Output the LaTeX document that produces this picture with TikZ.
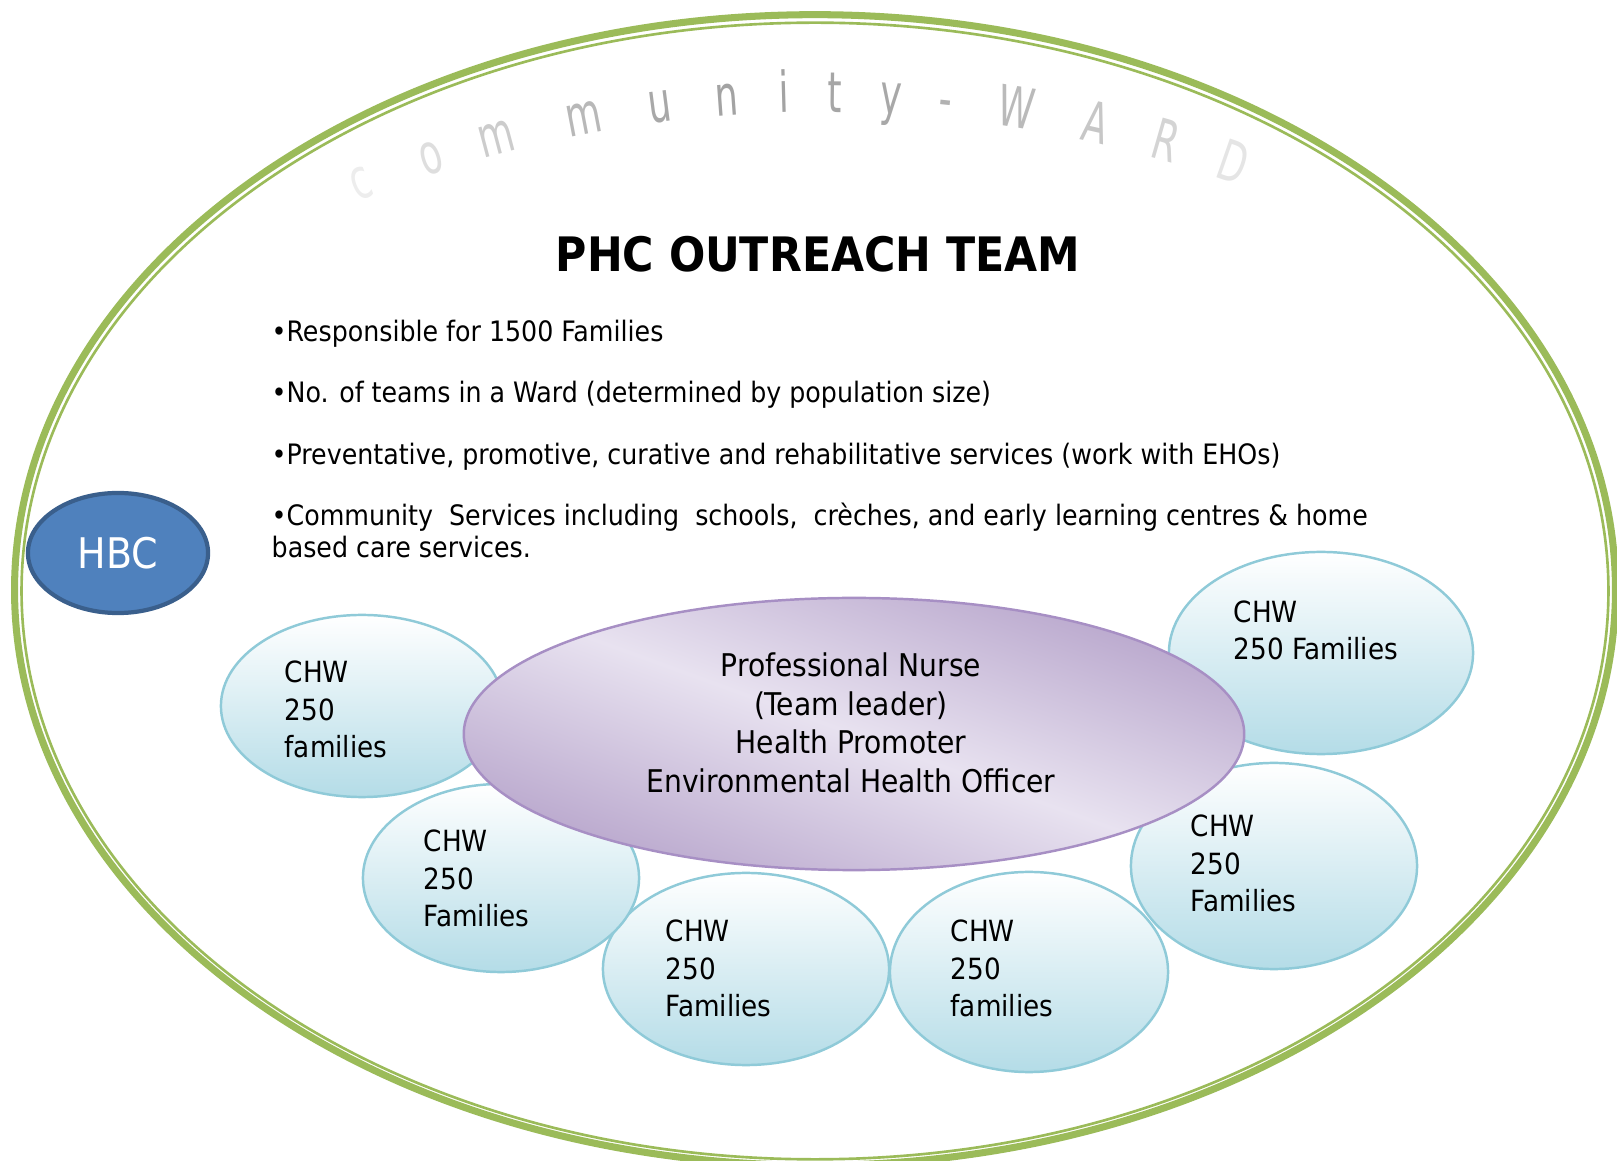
\documentclass[tikz,border=0pt]{standalone}
\usepackage{fontspec}
\setmainfont{DejaVu Sans Condensed}
\usetikzlibrary{shapes.geometric}

\definecolor{wardgreen}{HTML}{9BBB59}
\definecolor{chwline}{HTML}{8FCAD8}
\definecolor{chwfill}{HTML}{B4DCE7}
\definecolor{nursedark}{HTML}{B8A6CC}
\definecolor{nurselight}{HTML}{E8E2F0}
\definecolor{nurseline}{HTML}{A78FC4}
\definecolor{hbcfill}{HTML}{4F81BD}
\definecolor{hbcline}{HTML}{3A5F8C}

\begin{document}
\begin{tikzpicture}[
        x=0.01cm, y=-0.01cm,
        ward/.style={draw=wardgreen},
        bubble/.style={ellipse, draw=chwline, line width=0.7pt, top color=white, bottom color=chwfill, inner sep=0pt},
        chwtext/.style={anchor=base west, align=left, inner sep=0pt, font=\fontsize{8.3}{10.8}\selectfont},
        team/.style={ellipse, draw=nurseline, line width=0.7pt, top color=nursedark, bottom color=nursedark, middle color=nurselight, shading angle=-20, minimum width=7.8cm, minimum height=2.72cm, inner sep=0pt},
        teamtext/.style={align=center, inner sep=0pt, font=\fontsize{8.9}{10.95}\selectfont},
        hbc/.style={ellipse, draw=hbcline, line width=1.2pt, fill=hbcfill, text=white, minimum width=1.8cm, minimum height=1.2cm, inner sep=0pt, font=\fontsize{12}{14}\selectfont},
        point/.style={anchor=base west, align=left, inner sep=0pt, font=\fontsize{8}{9.1}\selectfont},
        arcletter/.style={anchor=base, inner sep=0pt, font=\fontsize{16}{16}\selectfont}
    ]
        \useasboundingbox (0,0) rectangle (1617,1161);

        % ward border
        \draw[ward, line width=2pt] (815,590) ellipse [x radius=8cm, y radius=5.75cm];
        \draw[ward, line width=0.75pt] (815,591) ellipse [x radius=7.93cm, y radius=5.68cm];

        % lettering round the top
        \foreach \ch/\a/\g [count=\i] in {c/111.4/7, o/108.0/13, m/104.9/20, m/100.8/28, u/97.3/34, n/94.2/36,
                                          i/91.6/36, t/89.3/35, y/86.7/34, -/84.2/30, W/81.0/27, A/77.3/22, R/74.0/17, D/70.8/10} {
            \node[arcletter, text=black!\g, rotate=\a-90] (w\i) at ({819+1240*cos(\a)}, {1352-1240*sin(\a)}) {\scalebox{.72}[1]{\ch}};
        }

        \node[font=\bfseries\fontsize{13.5}{16}\selectfont, anchor=base] (title) at (818,272) {PHC OUTREACH TEAM};

        \node[point] (p1) at (271,342) {\textbullet Responsible for 1500 Families};
        \node[point] (p2) at (271,403) {\textbullet No. of teams in a Ward (determined by population size)};
        \node[point] (p3) at (271,465) {\textbullet Preventative, promotive, curative and rehabilitative services (work with EHOs)};
        \node[point] (p4) at (271,558) {\textbullet Community\ \ Services including\ \ schools,\ \ crèches, and early learning centres \& home\\based care services.};

        % community health workers
        \foreach \n/\cx/\cy/\w/\h in {chwA/1321/653/3.04/2.02, chwB/1274/866/2.86/2.06, chwC/1029/972/2.78/2.0,
                                      chwD/746/969/2.86/1.92, chwE/501/878/2.76/1.88, chwF/362/706/2.82/1.82} {
            \node[bubble, minimum width=\w cm, minimum height=\h cm] (\n) at (\cx,\cy) {};
        }

        % team in the middle
        \node[team] (team) at (854,734) {};
        \node[teamtext] (staff) at (851,723) {Professional Nurse\\(Team leader)\\Health Promoter\\Environmental Health Officer};

        \node[chwtext] (chwAtxt) at (1233,660) {CHW\\250 Families};
        \node[chwtext] (chwBtxt) at (1190,912) {CHW\\250\\Families};
        \node[chwtext] (chwCtxt) at (950,1017) {CHW\\250\\families};
        \node[chwtext] (chwDtxt) at (665,1017) {CHW\\250\\Families};
        \node[chwtext] (chwEtxt) at (423,927) {CHW\\250\\Families};
        \node[chwtext] (chwFtxt) at (284,758) {CHW\\250\\families};

        \node[hbc] (hbc) at (118,553) {HBC};
    \end{tikzpicture}
\end{document}
